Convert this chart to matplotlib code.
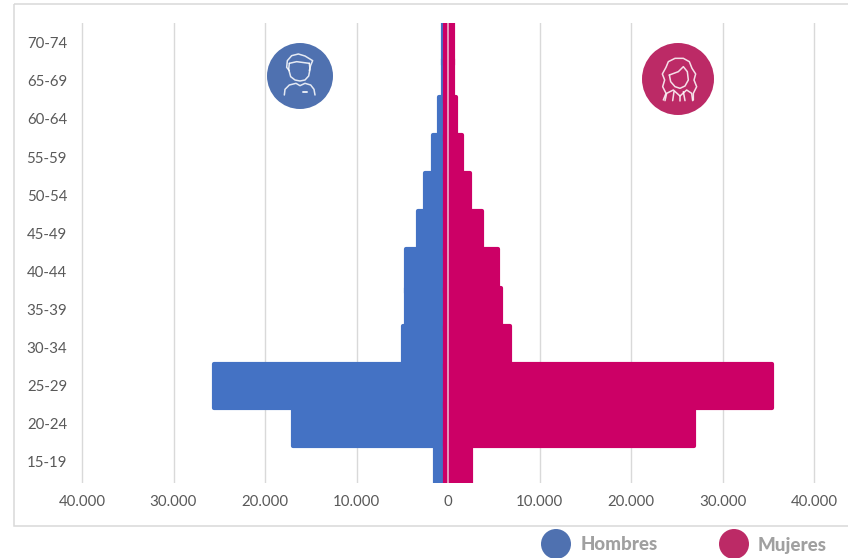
import numpy as np
import matplotlib
matplotlib.use('Agg')
import matplotlib.pyplot as plt
from matplotlib.patches import Circle, Rectangle
from matplotlib.lines import Line2D

plt.rcParams['font.family'] = ['Lato', 'DejaVu Sans']

edades = ['15-19', '20-24', '25-29', '30-34', '35-39', '40-44',
          '45-49', '50-54', '55-59', '60-64', '65-69', '70-74']
hombres = [1450, 16950, 25600, 4950, 4600, 4600, 3300, 2500, 1650, 1000, 550, 550]
mujeres = [2500, 26900, 35400, 6800, 5800, 5500, 3700, 2450, 1500, 850, 550, 550]
# la serie de mujeres arranca un poco a la izquierda del cero
inicio_mujeres = -350

x_ticks = [-40000, -30000, -20000, -10000, 0, 10000, 20000, 30000, 40000]
x_labels = ['40.000', '30.000', '20.000', '10.000', '0', '10.000', '20.000', '30.000', '40.000']

azul = '#4472c4'
rosa = '#cc0066'
gris = '#d9d9d9'

W, H = 848, 558
fig = plt.figure(figsize=(W / 100, H / 100), dpi=100)

# marco, solo visible por tres lados
fondo = fig.add_axes([0, 0, 1, 1])
fondo.set_xlim(0, W)
fondo.set_ylim(H, 0)
fondo.axis('off')
fondo.add_patch(Rectangle((13.5, 3.5), 900, 522.5, fill=False, ec=gris, lw=1.1))

ax = fig.add_axes([72 / W, (H - 483) / H, (824 - 72) / W, 460 / H])
ax.patch.set_alpha(0)
y = np.arange(len(edades))
ax.barh(y, -np.array(hombres), height=1.15, color=azul, edgecolor=azul,
        linewidth=3, joinstyle='round')
ax.barh(y, np.array(mujeres) - inicio_mujeres, left=inicio_mujeres, height=1.15,
        color=rosa, edgecolor=rosa, linewidth=3, joinstyle='round')
ax.axvline(0, color='#e8b4cc', lw=1.2, zorder=5)

ax.set_xlim((72 - 448) / 91.5 * 10000, (824 - 448) / 91.5 * 10000)
ax.set_ylim(-0.555, 11.52)
ax.set_yticks(y)
ax.set_yticklabels(edades)
ax.set_xticks(x_ticks)
ax.set_xticklabels(x_labels)
ax.tick_params(length=0, labelsize=10.8, labelcolor='#595959')
ax.tick_params(axis='y', pad=3.5)
ax.tick_params(axis='x', pad=9)
ax.grid(axis='x', color=gris, lw=1.0)
ax.set_axisbelow(True)
for s in ax.spines.values():
    s.set_visible(False)

# iconos y leyenda encima de todo
cap = fig.add_axes([0, 0, 1, 1])
cap.set_xlim(0, W)
cap.set_ylim(H, 0)
cap.axis('off')
cap.patch.set_alpha(0)

circ_azul = '#4f71b0'
circ_rosa = '#bc2a66'
cap.add_patch(Circle((300, 76), 33, color=circ_azul, lw=0))
cap.add_patch(Circle((678, 79), 36, color=circ_rosa, lw=0))
cap.add_patch(Circle((556, 544), 15, color=circ_azul, lw=0))
cap.add_patch(Circle((734, 544), 15, color=circ_rosa, lw=0))


def trazo(puntos, x0, y0, lw=1.1):
    xs = [x0 + p[0] / 3 for p in puntos]
    ys = [y0 + p[1] / 3 for p in puntos]
    cap.add_line(Line2D(xs, ys, color='white', lw=lw, alpha=0.85,
                        solid_capstyle='round', solid_joinstyle='round'))


# hombre
trazo([(118, 100), (116, 118), (122, 140), (135, 150), (150, 153), (165, 150), (176, 138), (180, 118), (178, 100)], 250, 30)
trazo([(118, 122), (110, 112), (112, 92), (125, 77), (145, 72), (165, 78), (188, 92), (182, 106), (178, 122)], 250, 30)
trazo([(118, 100), (140, 95), (178, 100)], 250, 30)
trazo([(103, 195), (105, 178), (118, 165), (138, 160), (150, 167), (165, 160), (182, 165), (192, 178), (195, 195)], 250, 30)
trazo([(160, 187), (170, 187)], 250, 30, lw=1.4)

# mujer
trazo([(100, 210), (108, 190), (98, 170), (104, 150), (97, 132), (108, 112), (115, 95), (135, 85),
       (160, 85), (178, 95), (186, 115), (197, 132), (192, 150), (200, 170), (190, 190), (190, 210)], 630, 30)
trazo([(118, 135), (122, 155), (135, 170), (150, 175), (165, 168), (175, 150), (172, 125), (160, 110),
       (145, 125), (118, 135)], 630, 30)
trazo([(105, 212), (110, 190), (130, 180), (150, 198), (170, 180), (185, 190), (188, 212)], 630, 30)
trazo([(128, 212), (132, 185)], 630, 30)
trazo([(165, 212), (160, 185)], 630, 30)
trazo([(150, 198), (150, 212)], 630, 30)

cap.text(581, 545, 'Hombres', fontsize=13.5, fontweight=900, color='#a0a0a0', va='center', ha='left')
cap.text(758, 545, 'Mujeres', fontsize=13.5, fontweight=900, color='#a0a0a0', va='center', ha='left')

fig.savefig('out.png', dpi=100)
